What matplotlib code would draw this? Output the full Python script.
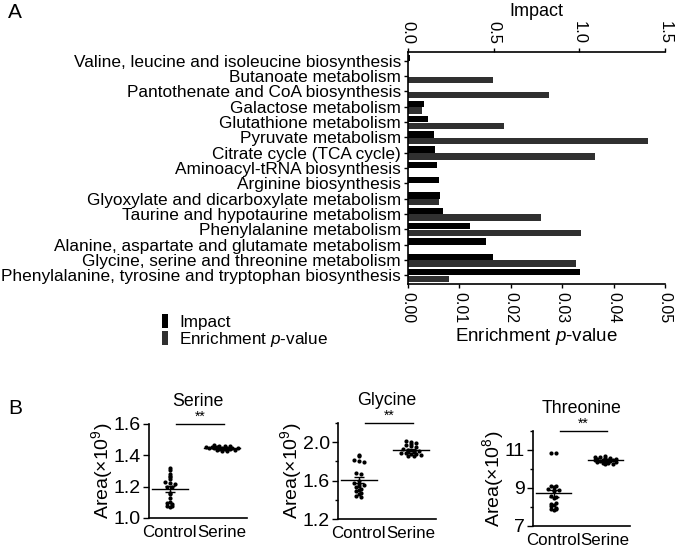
import numpy as np
import matplotlib
matplotlib.use("Agg")
import matplotlib.pyplot as plt
from matplotlib.lines import Line2D

FAM = ['Liberation Sans Narrow', 'Liberation Sans', 'DejaVu Sans']
plt.rcParams['font.family'] = FAM
plt.rcParams['mathtext.fontset'] = 'custom'
plt.rcParams['mathtext.rm'] = 'Liberation Sans'
plt.rcParams['mathtext.it'] = 'Liberation Sans:italic'

# ---------------- data ----------------
pathways = ["Valine, leucine and isoleucine biosynthesis", "Butanoate metabolism",
            "Pantothenate and CoA biosynthesis", "Galactose metabolism",
            "Glutathione metabolism", "Pyruvate metabolism", "Citrate cycle (TCA cycle)",
            "Aminoacyl-tRNA biosynthesis", "Arginine biosynthesis",
            "Glyoxylate and dicarboxylate metabolism", "Taurine and hypotaurine metabolism",
            "Phenylalanine metabolism", "Alanine, aspartate and glutamate metabolism",
            "Glycine, serine and threonine metabolism",
            "Phenylalanine, tyrosine and tryptophan biosynthesis"]
impact = [0.01, 0.0, 0.0, 0.093, 0.119, 0.15, 0.158, 0.172, 0.183, 0.185, 0.206,
          0.362, 0.455, 0.496, 1.004]
enrichment = [0.0, 0.0166, 0.0275, 0.0028, 0.0187, 0.0466, 0.0364, 0.0, 0.0, 0.006,
              0.0259, 0.0336, 0.0, 0.0326, 0.0080]
impact_ticks = [0.0, 0.5, 1.0, 1.5]
enrich_ticks = [0.00, 0.01, 0.02, 0.03, 0.04, 0.05]

groups = ["Control", "Serine"]
serine_ctrl = [1.32, 1.305, 1.28, 1.27, 1.26, 1.25, 1.23, 1.225, 1.22, 1.20, 1.195,
               1.16, 1.155, 1.13, 1.10, 1.095, 1.09, 1.075, 1.07, 1.075]
serine_ser = [1.465, 1.462, 1.46, 1.458, 1.455, 1.453, 1.452, 1.45, 1.45, 1.448, 1.447,
              1.445, 1.444, 1.442, 1.44, 1.438, 1.436, 1.433, 1.43, 1.428]
glycine_ctrl = [1.87, 1.86, 1.81, 1.80, 1.79, 1.68, 1.67, 1.60, 1.57, 1.56, 1.55, 1.54,
                1.53, 1.51, 1.50, 1.49, 1.47, 1.46, 1.44, 1.43]
glycine_ser = [2.01, 2.0, 1.99, 1.98, 1.97, 1.96, 1.95, 1.93, 1.92, 1.91, 1.91, 1.90,
               1.90, 1.89, 1.89, 1.88, 1.88, 1.87, 1.86, 1.86]
threonine_ctrl = [10.85, 10.85, 9.1, 9.1, 9.05, 8.95, 8.9, 8.9, 8.85, 8.6, 8.55, 8.5,
                  8.15, 8.1, 8.05, 7.95, 7.9, 7.9, 7.85, 8.2]
threonine_ser = [10.7, 10.65, 10.62, 10.6, 10.58, 10.55, 10.52, 10.5, 10.48, 10.46,
                 10.45, 10.43, 10.42, 10.4, 10.38, 10.35, 10.32, 10.3, 10.28, 10.25]

BLACK = '#000000'
GRAY = '#303030'

fig = plt.figure(figsize=(6.75, 5.52), dpi=100)

# ---------------- panel A ----------------
axA = fig.add_axes([408/675, 1-284/552, 257/675, 232/552])
axI = axA.twiny()
n = len(pathways)
ypos = np.arange(n)
axA.barh(ypos + 0.24, enrichment, height=0.42, color=GRAY)
axI.barh(ypos - 0.2, impact, height=0.42, color=BLACK)
axA.set_xlim(0, 0.05)
axI.set_xlim(0, 1.5)
axA.set_ylim(n - 1 + 0.58, -0.58)
axA.set_yticks(ypos)
axA.set_yticklabels(pathways, fontsize=12.45)
axA.tick_params(axis='y', length=3, width=1, pad=2)
axA.set_xticks(enrich_ticks)
axA.set_xticklabels(['%.2f' % t for t in enrich_ticks], rotation=-90, fontsize=11.5)
axA.tick_params(axis='x', length=3, width=1, pad=3)
axI.set_xticks(impact_ticks)
axI.set_xticklabels(['%.1f' % t for t in impact_ticks], rotation=-90, fontsize=12)
axI.tick_params(axis='x', length=3, width=1, pad=3)
for a in (axA, axI):
    a.spines['right'].set_visible(False)
    for s in a.spines.values():
        s.set_linewidth(1.2)
axA.spines['top'].set_visible(False)
axI.spines['bottom'].set_visible(False)
axI.spines['left'].set_visible(False)
axA.set_xlabel('Enrichment $\\it{p}$-value', fontsize=13.5, labelpad=2)
axI.set_xlabel('Impact', fontsize=13, labelpad=3)

rect_marker = [(-0.5, -1), (0.5, -1), (0.5, 1), (-0.5, 1), (-0.5, -1)]
handles = [Line2D([], [], ls='none', marker=rect_marker, ms=10, color=BLACK, mew=0),
           Line2D([], [], ls='none', marker=rect_marker, ms=10, color=GRAY, mew=0)]
fig.legend(handles, ['Impact', 'Enrichment $\\it{p}$-value'], loc='upper left',
           bbox_to_anchor=(152/675, 1-306/552), frameon=False, fontsize=12.3,
           handlelength=0.5, handletextpad=0.6, labelspacing=0.02, borderpad=0)

fig.text(8/675, 1-12/552, 'A', fontsize=15, va='center', ha='left')
fig.text(8/675, 1-408/552, 'B', fontsize=15, va='center', ha='left')

# ---------------- panel B ----------------
def swarm(vals, binh, dx):
    v = np.asarray(vals, float)
    off = np.zeros_like(v)
    keys = np.round(v / binh).astype(int)
    for k in np.unique(keys):
        idx = np.where(keys == k)[0]
        m = len(idx)
        off[idx] = (np.arange(m) - (m - 1) / 2) * dx
    return off

def dotpanel(rect, ctrl, ser, ylim, majors, minors, title, ylabel, binh):
    ax = fig.add_axes(rect)
    for i, vals in enumerate((ctrl, ser)):
        x = i + swarm(vals, binh, 0.1)
        ax.scatter(x, vals, s=9, color='black', zorder=3, linewidths=0)
        m = np.mean(vals)
        sem = np.std(vals, ddof=1) / np.sqrt(len(vals))
        ax.plot([i - 0.34, i + 0.34], [m, m], color='black', lw=1, zorder=4)
        ax.errorbar(i, m, yerr=sem, color='black', lw=1, capsize=3.5, capthick=1, zorder=4)
    ax.set_xlim(-0.40, 1.48)
    ax.set_ylim(*ylim)
    ax.set_yticks(majors)
    ax.set_yticks(minors, minor=True)
    ax.set_yticklabels([('%g' % t) if t >= 5 else ('%.1f' % t) for t in majors], fontsize=14)
    ax.set_xticks([0, 1])
    ax.set_xticklabels(groups, fontsize=12.2)
    ax.tick_params(axis='x', length=0, pad=5)
    ax.tick_params(axis='y', which='major', length=4, width=1, pad=2)
    ax.tick_params(axis='y', which='minor', length=2.5, width=1)
    for s in ('top', 'right'):
        ax.spines[s].set_visible(False)
    for s in ('left', 'bottom'):
        ax.spines[s].set_linewidth(1.2)
    ax.set_ylabel(ylabel, fontsize=14, labelpad=-1)
    ax.set_title(title, fontsize=12.8, pad=13)
    ytop = ylim[1]
    ax.plot([0.12, 1.04], [ytop, ytop], color='black', lw=1, clip_on=False)
    ax.text(0.58, ytop, '**', ha='center', va='bottom', fontsize=10, clip_on=False)
    return ax

dotpanel([149/675, 1-518/552, 98/675, 94/552], serine_ctrl, serine_ser,
         (1.0, 1.6), [1.0, 1.2, 1.4, 1.6], [], 'Serine', 'Area(×10$^9$)', 0.012)
dotpanel([338/675, 1-519/552, 98/675, 96/552], glycine_ctrl, glycine_ser,
         (1.2, 2.2), [1.2, 1.6, 2.0], [1.4, 1.8, 2.2], 'Glycine', 'Area(×10$^9$)', 0.02)
dotpanel([533/675, 1-526/552, 97/675, 95/552], threonine_ctrl, threonine_ser,
         (7, 12), [7, 9, 11], [8, 10, 12], 'Threonine', 'Area(×10$^8$)', 0.1)

fig.savefig('out.png', dpi=100)
